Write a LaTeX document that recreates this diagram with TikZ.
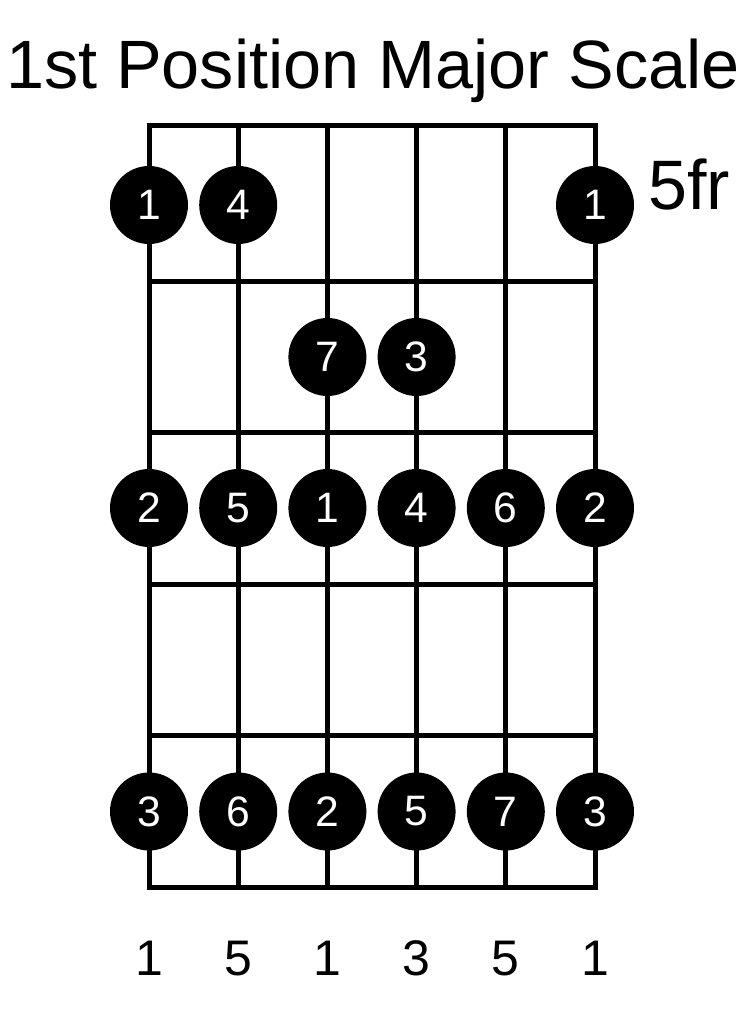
\documentclass[tikz,border=0pt]{standalone}
\usepackage{fontspec}
\setmainfont{Liberation Sans}
\begin{document}
\begin{tikzpicture}[x=1pt,y=-1pt,
  gridline/.style={line width=5pt,line cap=rect},
  dot/.style={circle,fill=black,text=white,minimum size=78pt,inner sep=0pt,
    font=\fontsize{42.6}{44}\selectfont},
  strlabel/.style={anchor=base,inner sep=0pt,font=\fontsize{50}{52}\selectfont},
  titlefont/.style={font=\fontsize{68.4}{72}\selectfont}]
\useasboundingbox (0,0) rectangle (744,1024);
% title
\node[titlefont,anchor=base,inner sep=0pt] (title) at (373,88.3) {1st Position Major Scale};
\node[font=\fontsize{70}{72}\selectfont,anchor=base west,inner sep=0pt] (fret) at (648,210) {5fr};
% frets
\foreach \y [count=\i] in {125.5,281,432.5,584,735.5,887.5}{
  \coordinate (fl\i) at (149,\y);
  \coordinate (fr\i) at (595,\y);
  \draw[gridline] (fl\i) -- (fr\i);
}
% strings
\foreach \x [count=\i] in {149,238.2,327.4,416.6,505.8,595}{
  \coordinate (st\i) at (\x,125.5);
  \coordinate (sb\i) at (\x,887.5);
  \draw[gridline] (st\i) -- (sb\i);
}
% dots
\node[dot] (a1) at (149,205) {1};
\node[dot] (a2) at (238.2,205) {4};
\node[dot] (a6) at (595,205) {1};
\node[dot] (b3) at (327.4,357) {7};
\node[dot] (b4) at (416.6,357) {3};
\foreach \x/\t [count=\i] in {149/2,238.2/5,327.4/1,416.6/4,505.8/6,595/2}{
  \node[dot] (c\i) at (\x,508) {\t};
}
\foreach \x/\t [count=\i] in {149/3,238.2/6,327.4/2,416.6/5,505.8/7,595/3}{
  \node[dot] (e\i) at (\x,811.5) {\t};
}
% string labels
\foreach \x/\t [count=\i] in {149/1,238.2/5,327.4/1,416.6/3,505.8/5,595/1}{
  \node[strlabel] (l\i) at (\x,975) {\t};
}
\end{tikzpicture}
\end{document}
